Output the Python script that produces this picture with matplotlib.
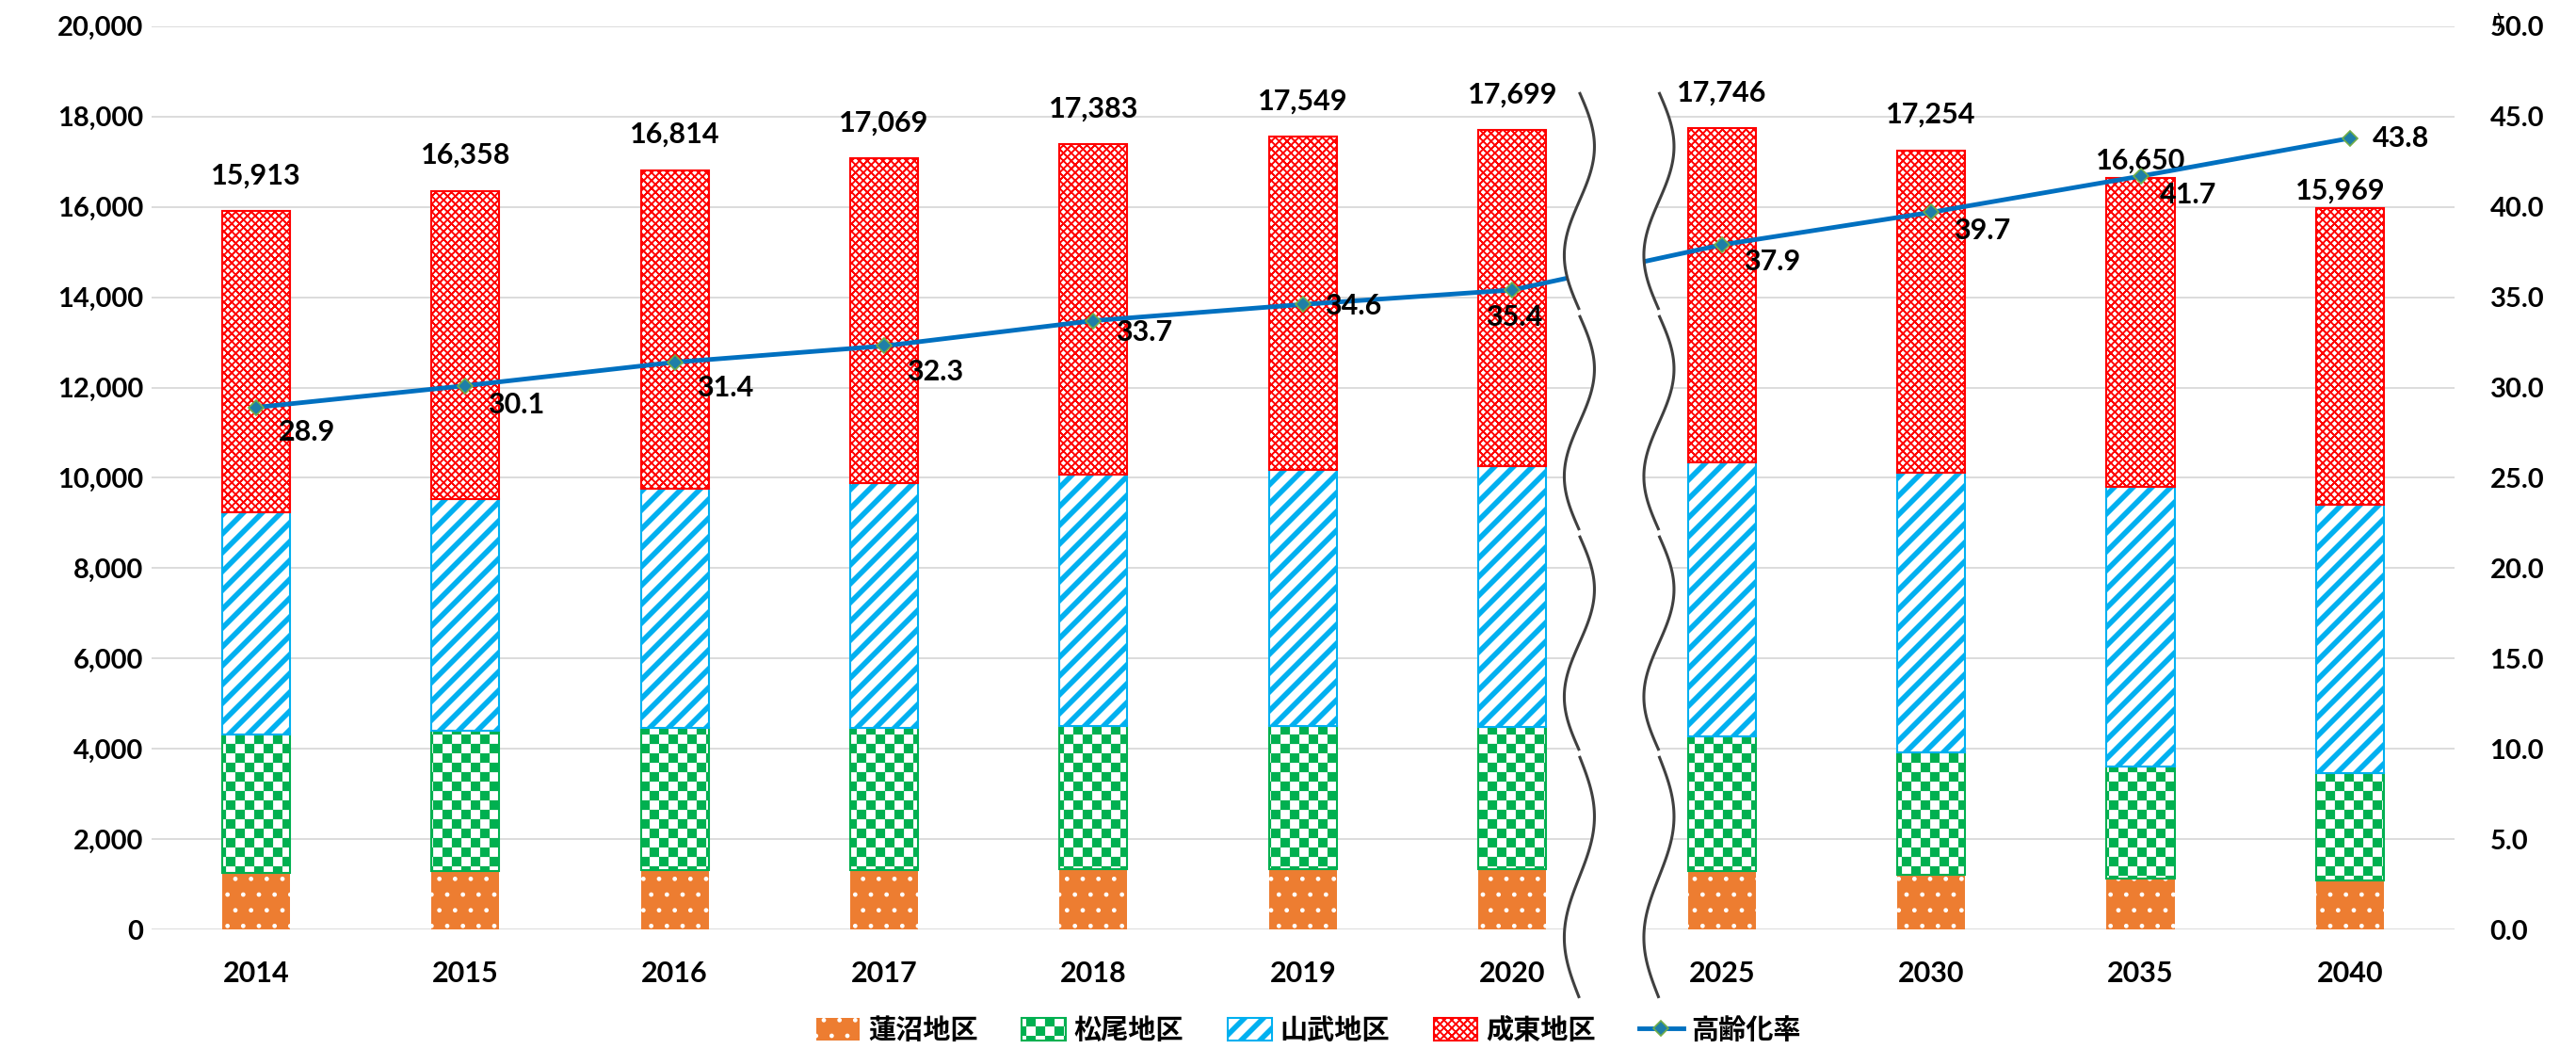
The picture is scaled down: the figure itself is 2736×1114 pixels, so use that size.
import matplotlib
matplotlib.use("Agg")
import matplotlib.pyplot as plt
import matplotlib.hatch as mhatch
import matplotlib.transforms as mtrans
from matplotlib.path import Path
from matplotlib.ticker import FuncFormatter, MultipleLocator
import numpy as np

# data
years = ["2014", "2015", "2016", "2017", "2018", "2019", "2020",
         "2025", "2030", "2035", "2040"]
hasunuma = [1258, 1293, 1307, 1321, 1328, 1342, 1342, 1300, 1216, 1133, 1091]
matsuo = [3059, 3114, 3156, 3149, 3177, 3163, 3142, 2975, 2711, 2481, 2364]
sanbu = [4929, 5117, 5297, 5415, 5568, 5672, 5783, 6069, 6181, 6188, 5951]
naruto = [6667, 6834, 7054, 7184, 7310, 7372, 7432, 7402, 7146, 6848, 6563]
totals = [15913, 16358, 16814, 17069, 17383, 17549, 17699,
          17746, 17254, 16650, 15969]
aging = [28.9, 30.1, 31.4, 32.3, 33.7, 34.6, 35.4, 37.9, 39.7, 41.7, 43.8]
names = ["蓮沼地区", "松尾地区", "山武地区", "成東地区", "高齢化率"]

# label nudges in points (the labels were placed by hand in the original)
total_dx = [0, 0, 0, 0, 0, 0, 0, 0, 0, 0, -7]
total_dy = [17, 17, 17, 17, 17, 17, 17, 17, 17, 3, 3]
rate_dx = [17, 17, 17, 17, 17, 17, -20, 17, 17, 15, 17]
rate_dy = [-19, -15, -20, -20, -9, -1, -21, -13, -14, -14, 0]

SQ = [Path.MOVETO, Path.LINETO, Path.LINETO, Path.LINETO, Path.CLOSEPOLY]


class CheckerHatch(mhatch.HatchPatternBase):
    # 'O' -> checkerboard
    def __init__(self, hatch, density):
        self.n = 10 if 'O' in hatch else 0
        self.num_vertices = (self.n * self.n // 2) * 5

    def set_vertices_and_codes(self, vertices, codes):
        s = 1.0 / self.n
        m = 0.006
        k = 0
        for i in range(self.n):
            for j in range(self.n):
                if (i + j) % 2 == 0:
                    x0, y0 = i * s + m, j * s + m
                    x1, y1 = (i + 1) * s - m, (j + 1) * s - m
                    vertices[k:k + 5] = [(x0, y0), (x1, y0), (x1, y1), (x0, y1), (x0, y0)]
                    codes[k:k + 5] = SQ
                    k += 5


class StripeHatch(mhatch.HatchPatternBase):
    # '/' -> wide upward diagonal, 'x' -> small diagonal crosshatch
    def __init__(self, hatch, density):
        self.polys = []
        if '/' in hatch:
            self.polys += self.stripes(5, 0.30, 1)
        if 'x' in hatch:
            self.polys += self.stripes(12, 0.08, 1) + self.stripes(12, 0.08, -1)
        self.num_vertices = 5 * len(self.polys)

    @staticmethod
    def stripes(n, frac, sign):
        p = 1.0 / n
        w = frac * p
        out = []
        for k in range(-n - 1, n + 2):
            d = k * p
            if sign > 0:
                out.append([(d, 0), (d + 1, 1), (d + 1 + w, 1), (d + w, 0), (d, 0)])
            else:
                out.append([(d, 1), (d + w, 1), (d + 1 + w, 0), (d + 1, 0), (d, 1)])
        return out

    def set_vertices_and_codes(self, vertices, codes):
        for i, poly in enumerate(self.polys):
            vertices[5 * i:5 * i + 5] = poly
            codes[5 * i:5 * i + 5] = SQ


mhatch._hatch_types = [mhatch.SmallFilledCircles, CheckerHatch, StripeHatch]

plt.rcParams['font.family'] = ['Lato', 'Noto Sans CJK JP', 'DejaVu Sans']
plt.rcParams['font.weight'] = 'bold'
plt.rcParams['hatch.linewidth'] = 1.0

fig = plt.figure(figsize=(27.36, 11.14), dpi=100)
ax = fig.add_axes([0.0587, 0.114, 0.8942, 0.861])
x = np.arange(len(years))

# (face, hatch/edge colour, hatch, edge lw)
styles = [
    ('#ED7D31', 'white', '.', 0),
    ('white', '#00B050', 'O', 1.5),
    ('white', '#00B0F0', '/', 1.5),
    ('white', '#FF0000', 'x', 1.5),
]
series = [hasunuma, matsuo, sanbu, naruto]
handles = []
bottom = np.zeros(len(years))
for vals, name, (fc, hc, hatch, elw) in zip(series, names, styles):
    bars = ax.bar(x, vals, 0.324, bottom=bottom, color=fc, edgecolor=hc,
                  hatch=hatch, linewidth=elw, label=name, zorder=2)
    handles.append(bars)
    bottom += np.array(vals)

for xi, t, dx, dy in zip(x, totals, total_dx, total_dy):
    ax.annotate(f"{t:,}", (xi, t), xytext=(dx, dy), textcoords='offset points',
                ha='center', va='bottom', fontsize=22, fontweight='bold')

ax.set_xlim(-0.5, 10.5)
ax.set_ylim(0, 20000)
ax.yaxis.set_major_locator(MultipleLocator(2000))
ax.yaxis.set_major_formatter(FuncFormatter(lambda v, p: f"{v:,.0f}"))
ax.set_xticks(x, years)
ax.tick_params(axis='x', length=0, pad=24, labelsize=22)
ax.tick_params(axis='y', length=0, pad=6, labelsize=21)
ax.grid(axis='y', color='#D9D9D9', lw=1.3)
ax.set_axisbelow(True)
for s in ax.spines.values():
    s.set_visible(False)

ax2 = ax.twinx()
line, = ax2.plot(x, aging, color='#0070C0', lw=3.5, marker='D', ms=8.5,
                 mfc='#1F7FA8', mec='#70AD47', mew=1.2, zorder=3, label=names[4])
for xi, v, dx, dy in zip(x, aging, rate_dx, rate_dy):
    ax2.annotate(f"{v:.1f}", (xi, v), xytext=(dx, dy), textcoords='offset points',
                 ha='left', va='center', fontsize=22, fontweight='bold', zorder=6)
ax2.set_ylim(0, 50)
ax2.yaxis.set_major_locator(MultipleLocator(5))
ax2.yaxis.set_major_formatter(FuncFormatter(lambda v, p: f"{v:.1f}"))
ax2.tick_params(axis='y', length=0, pad=27, labelsize=21)
for s in ax2.spines.values():
    s.set_visible(False)

# axis break between 2020 and 2025
tr = mtrans.blended_transform_factory(ax2.transData, ax2.transAxes)
segs = [(0.927, 0.686), (0.680, 0.442), (0.436, 0.198), (0.192, -0.076)]
amp = 0.072
waves = []
for c in (6.32, 6.70):
    xs, ys = [], []
    for top, bot in segs:
        t = np.linspace(0, 1, 80)
        yy = top + (bot - top) * t
        xx = c + amp * np.sin(2 * np.pi * t)
        ax2.plot(xx, yy, transform=tr, color='#404040', lw=2.2, clip_on=False,
                 zorder=5, solid_capstyle='butt')
        xs.append(xx)
        ys.append(yy)
    waves.append((np.concatenate(xs), np.concatenate(ys)))
(xl, yl), (xr, yr) = waves
ax2.fill(np.concatenate([xl, xr[::-1]]), np.concatenate([yl, yr[::-1]]),
         transform=tr, color='white', zorder=4, clip_on=False)

fig.text(0.970, 0.979, ')', fontsize=15, fontweight='normal',
         ha='center', va='center')

fig.legend(handles + [line], names, loc='center',
           bbox_to_anchor=(0.508, 0.018), ncol=5, frameon=False,
           fontsize=21, handlelength=1.6, handleheight=0.85,
           columnspacing=1.6, handletextpad=0.3)

fig.savefig("out.png", dpi=100)
